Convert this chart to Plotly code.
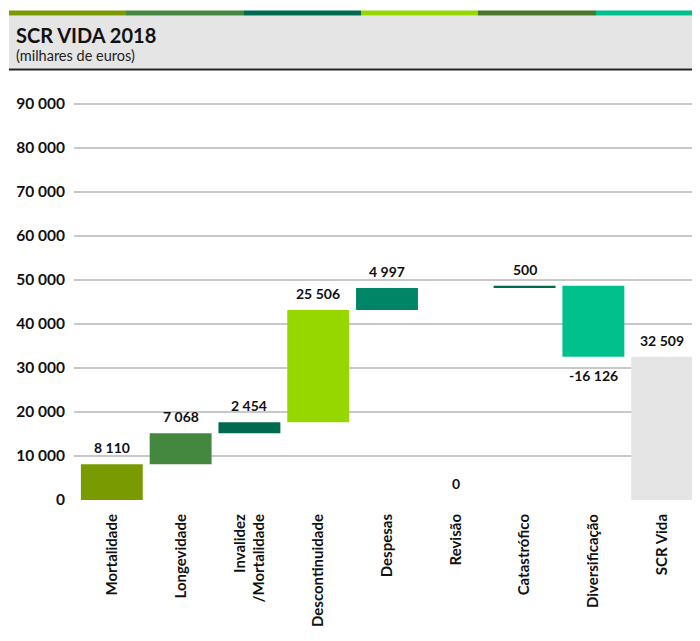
import plotly.graph_objects as go

categories = ["Mortalidade", "Longevidade", "Invalidez<br>/Mortalidade", "Descontinuidade",
              "Despesas", "Revisão", "Catastrófico", "Diversificação", "SCR Vida"]
values = [8110, 7068, 2454, 25506, 4997, 0, 500, -16126, 32509]
is_total = [False, False, False, False, False, False, False, False, True]
bar_colors = ["#7A9A01", "#43883E", "#006A4E", "#97D700", "#008566",
              "#008566", "#006A4E", "#00C08B", "#E5E5E5"]
y_ticks = [0, 10000, 20000, 30000, 40000, 50000, 60000, 70000, 80000, 90000]
strip_colors = ["#7A9A01", "#43883E", "#006A4E", "#97D700", "#4A7729", "#00C08B"]

# page body has an 8px default margin; figure sized to fill the rest of the window
OFF = 8
W, H = 700 - OFF, 641 - OFF
L, R, T, B = 74 - OFF, 0, 85.5 - OFF, 141
PW, PH = W - L - R, H - T - B

def fmt(v):
    s = f"{abs(v):,}".replace(",", " ")
    return ("-" if v < 0 else "") + s

bases, heights = [], []
cum = 0
for v, tot in zip(values, is_total):
    if tot or v == 0:
        bases.append(0)
        heights.append(v)
    else:
        bases.append(cum)
        heights.append(v)
    if not tot:
        cum += v

fig = go.Figure()
fig.add_trace(go.Bar(
    x=list(range(len(categories))), y=heights, base=bases,
    marker=dict(color=bar_colors, line=dict(width=0)),
    width=0.9, hoverinfo="skip",
))

font_family = "Lato, 'Open Sans', sans-serif"
annotations = []
for i, (b, h) in enumerate(zip(bases, heights)):
    if h >= 0:
        annotations.append(dict(x=i, y=b + h, xref="x", yref="y", text=f"<b>{fmt(h)}</b>",
                                showarrow=False, yanchor="bottom", yshift=6,
                                font=dict(size=14, color="#111", family=font_family)))
    else:
        annotations.append(dict(x=i, y=b + h, xref="x", yref="y", text=f"<b>{fmt(h)}</b>",
                                showarrow=False, yanchor="top", yshift=-8,
                                font=dict(size=14, color="#111", family=font_family)))

def px_to_paper_x(px):
    return (px - OFF - L) / PW

def px_to_paper_y(py):
    return (H - B - (py - OFF)) / PH

shapes = []
shapes.append(dict(type="rect", xref="paper", yref="paper",
                   x0=px_to_paper_x(9), x1=px_to_paper_x(700),
                   y0=px_to_paper_y(68), y1=px_to_paper_y(15),
                   fillcolor="#E5E5E5", line=dict(width=0), layer="below"))
seg_edges = [9, 126, 244, 361, 478, 596, 700]
for i, c in enumerate(strip_colors):
    shapes.append(dict(type="rect", xref="paper", yref="paper",
                       x0=px_to_paper_x(seg_edges[i]), x1=px_to_paper_x(seg_edges[i + 1]),
                       y0=px_to_paper_y(15), y1=px_to_paper_y(10),
                       fillcolor=c, line=dict(width=0)))
shapes.append(dict(type="rect", xref="paper", yref="paper",
                   x0=px_to_paper_x(9), x1=px_to_paper_x(700),
                   y0=px_to_paper_y(70), y1=px_to_paper_y(68),
                   fillcolor="#222", line=dict(width=0)))

annotations.append(dict(xref="paper", yref="paper", x=px_to_paper_x(15), y=px_to_paper_y(34),
                        xanchor="left", yanchor="middle", align="left", showarrow=False,
                        borderpad=0, text="<b>SCR VIDA 2018</b>",
                        font=dict(size=20, color="#111", family=font_family)))
annotations.append(dict(xref="paper", yref="paper", x=px_to_paper_x(15), y=px_to_paper_y(55),
                        xanchor="left", yanchor="middle", align="left", showarrow=False,
                        borderpad=0, text="(milhares de euros)",
                        font=dict(size=14.5, color="#222", family=font_family)))

fig.update_layout(
    width=W, height=H,
    margin=dict(l=L, r=R, t=T, b=B, pad=0, autoexpand=False),
    paper_bgcolor="white", plot_bgcolor="white",
    showlegend=False,
    shapes=shapes, annotations=annotations,
    font=dict(family=font_family, color="#111"),
)
fig.update_xaxes(
    tickmode="array", tickvals=list(range(len(categories))),
    ticktext=[f"<b>{c}</b>" for c in categories],
    tickangle=-90, tickfont=dict(size=15, color="#111", family=font_family),
    range=[-0.55, 8.55], showgrid=False, zeroline=False, showline=False,
    ticks="", ticklabelstandoff=10, automargin=False,
)
fig.update_yaxes(
    range=[0, 94000], tickmode="array", tickvals=y_ticks,
    ticktext=[f"<b>{fmt(v)}</b>" for v in y_ticks],
    tickfont=dict(size=15.5, color="#111", family=font_family),
    showgrid=True, gridcolor="#C8C8C8", gridwidth=1.5,
    zeroline=False, showline=False, ticks="", ticklabelstandoff=8, automargin=False,
)

fig.write_html("out.html")
